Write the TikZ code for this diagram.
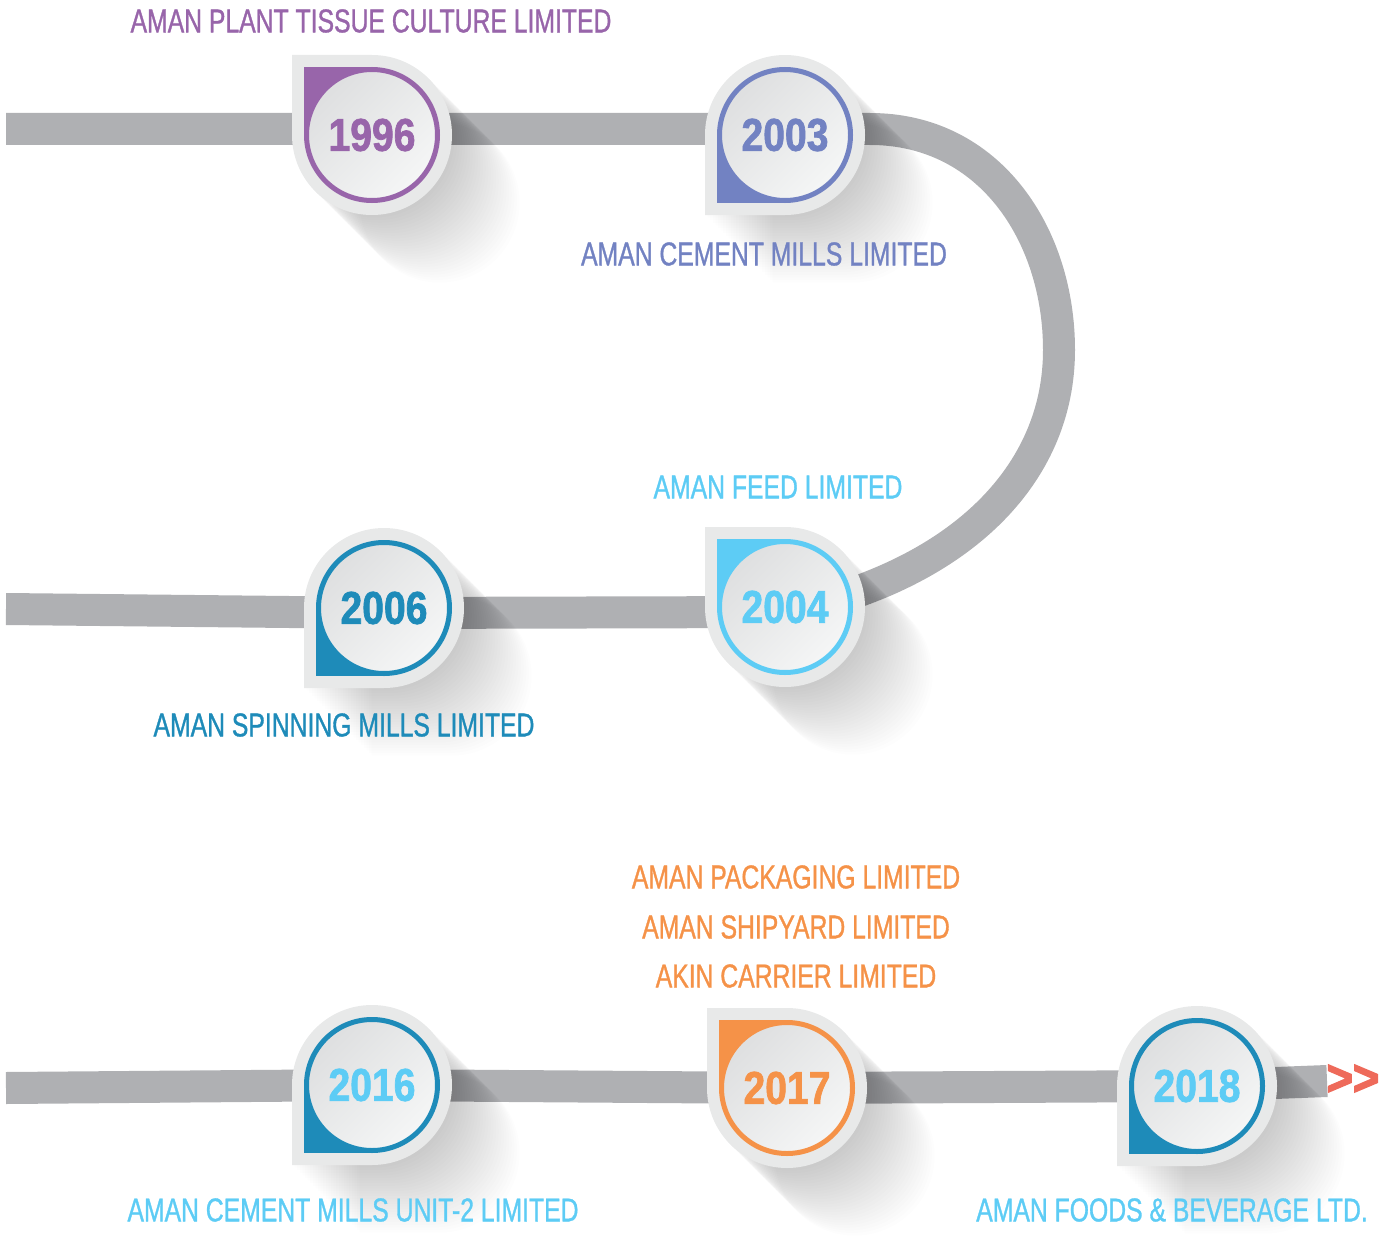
\documentclass[tikz,border=0pt]{standalone}
\usepackage{fontspec}
\setmainfont{Liberation Sans}[FakeStretch=0.75,FakeBold=1]
\newfontfamily\yearfont{Liberation Sans}[FakeStretch=0.85,FakeBold=1.5]
\newfontfamily\moredfont{Liberation Sans}[FakeStretch=0.9,FakeBold=3]

\definecolor{plum}{RGB}{152,101,170}
\definecolor{slate}{RGB}{114,130,194}
\definecolor{sky}{RGB}{93,204,245}
\definecolor{ocean}{RGB}{30,139,185}
\definecolor{amber}{RGB}{245,146,72}
\definecolor{coral}{RGB}{238,106,90}
\definecolor{railgrey}{RGB}{175,176,179}
\definecolor{shell}{RGB}{232,233,233}
\definecolor{faceA}{RGB}{222,223,224}
\definecolor{faceB}{RGB}{245,246,246}

\pgfdeclarelayer{rails}
\pgfdeclarelayer{badges}
\pgfsetlayers{rails,badges,main}

\begin{document}
\begin{tikzpicture}[x=1pt,y=-1pt,
	year/.style={font=\yearfont\bfseries\fontsize{46}{46}\selectfont,inner sep=0pt},
	firm/.style={font=\fontsize{33}{36}\selectfont,inner sep=0pt},
	rail/.style={draw=railgrey,line width=32pt},
	drop/.style={insert path={(-80,0) -- (-80,80*\s) -- (0,80*\s) arc[start angle=90*\s,end angle=-180*\s,radius=80] -- cycle}},
	ring/.style={draw=#1,line width=5pt,top color=faceA,bottom color=faceB,shading angle=45}]

	\useasboundingbox (0,0) rectangle (1387,1236);

	\node[year,text=plum] (1996) at (372,135) {1996};
	\node[year,text=slate] (2003) at (785,135) {2003};
	\node[year,text=sky] (2004) at (785,607) {2004};
	\node[year,text=ocean] (2006) at (384,608) {2006};
	\node[year,text=sky] (2016) at (372,1085) {2016};
	\node[year,text=amber] (2017) at (787,1088) {2017};
	\node[year,text=sky] (2018) at (1197,1086) {2018};
	\node[text=coral,font=\moredfont\bfseries\fontsize{50}{50}\selectfont,inner sep=0pt] (more) at (1353,1080) {>\kern0pt>};

	\node[firm,text=plum] (n1996) at (371,21) {AMAN PLANT TISSUE CULTURE LIMITED};
	\node[firm,text=slate] (n2003) at (764,254) {AMAN CEMENT MILLS LIMITED};
	\node[firm,text=sky] (n2004) at (778,487) {AMAN FEED LIMITED};
	\node[firm,text=ocean] (n2006) at (344,725) {AMAN SPINNING MILLS LIMITED};
	\node[firm,text=amber] (n2017a) at (796,877) {AMAN PACKAGING LIMITED};
	\node[firm,text=amber] (n2017b) at (796,927) {AMAN SHIPYARD LIMITED};
	\node[firm,text=amber] (n2017c) at (796,976) {AKIN CARRIER LIMITED};
	\node[firm,text=sky] (n2016) at (353,1210) {AMAN CEMENT MILLS UNIT-2 LIMITED};
	\node[firm,text=sky] (n2018) at (1172,1210) {AMAN FOODS \& BEVERAGE LTD.};

	\coordinate (w1) at (6,129);
	\coordinate (w2) at (6,609);
	\coordinate (w3) at (6,1088);
	\coordinate (e3) at (1327,1081);

	\begin{pgfonlayer}{rails}
	\draw[rail] (w1) -- ([yshift=6pt]1996.center) -- ([yshift=6pt]2003.center) -- (870,129)
		.. controls (990,129) and (1059,235) .. (1059,350)
		.. controls (1059,475) and (960,575) .. ([yshift=-5pt]2004.center)
		-- ([yshift=-5pt]2006.center) -- (w2);
	\draw[rail] (w3) -- (2016.center) -- (2017.center) -- (2018.center) -- (e3);
	\end{pgfonlayer}

	\begin{pgfonlayer}{badges}
	\foreach \n/\c/\s in {1996/plum/-1,2003/slate/1,2004/sky/-1,2006/ocean/1,2016/ocean/1,2017/amber/-1,2018/ocean/1}{
		\begin{scope}[shift={(\n.center)}]
			\foreach \k in {1,...,26}
				\fill[black,opacity=0.009,shift={(2.6*\k,2.6*\k)},drop];
			\fill[shell,drop];
			\fill[\c] (0,0) rectangle (-68,68*\s);
			\path[ring=\c] (0,0) circle[radius=65.5];
		\end{scope}
	}
	\end{pgfonlayer}
\end{tikzpicture}
\end{document}
